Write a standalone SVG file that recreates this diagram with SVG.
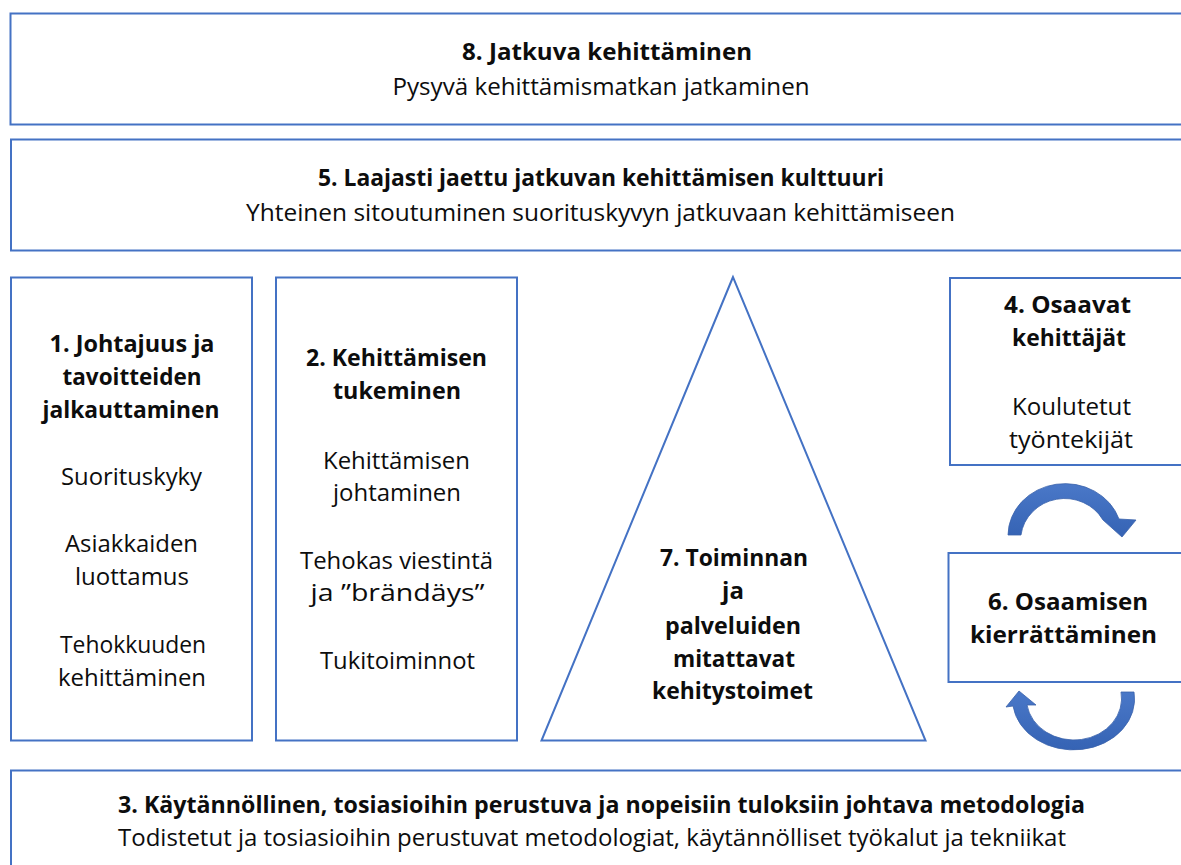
<svg xmlns="http://www.w3.org/2000/svg" width="1181" height="865" viewBox="0 0 1181 865">
  <style>
    .box { fill: #ffffff; stroke: #4472C4; stroke-width: 2; }
    .t { font-family: "Open Sans", "Noto Sans", "Liberation Sans", sans-serif; font-size: 24px; fill: #0d0d0d; text-anchor: middle; }
    .b { font-weight: bold; }
    .arrow { fill: url(#arrowFill); stroke: #3a62ab; stroke-width: 0.8; }
  </style>
  <defs>
    <linearGradient id="arrowFill" x1="0" y1="0" x2="0" y2="1">
      <stop offset="0" stop-color="#4a78c8"/>
      <stop offset="1" stop-color="#3563b4"/>
    </linearGradient>
  </defs>

  <rect width="1181" height="865" fill="#ffffff"/>

  <g id="node-8">
    <rect class="box" x="10.5" y="13.5" width="1200" height="111"/>
    <text class="t b" x="607" y="60" textLength="290" lengthAdjust="spacingAndGlyphs">8. Jatkuva kehittäminen</text>
    <text class="t" x="601" y="95" textLength="417" lengthAdjust="spacingAndGlyphs">Pysyvä kehittämismatkan jatkaminen</text>
  </g>

  <g id="node-5">
    <rect class="box" x="11" y="139.5" width="1200" height="111"/>
    <text class="t b" x="601" y="186" textLength="566" lengthAdjust="spacingAndGlyphs">5. Laajasti jaettu jatkuvan kehittämisen kulttuuri</text>
    <text class="t" x="600.5" y="221" textLength="709" lengthAdjust="spacingAndGlyphs">Yhteinen sitoutuminen suorituskyvyn jatkuvaan kehittämiseen</text>
  </g>

  <g id="node-1">
    <rect class="box" x="11" y="277.5" width="241" height="463"/>
    <text class="t b" x="132" y="352" textLength="165" lengthAdjust="spacingAndGlyphs">1. Johtajuus ja</text>
    <text class="t b" x="132" y="385" textLength="139" lengthAdjust="spacingAndGlyphs">tavoitteiden</text>
    <text class="t b" x="131" y="418" textLength="177" lengthAdjust="spacingAndGlyphs">jalkauttaminen</text>
    <text class="t" x="131.5" y="485" textLength="141" lengthAdjust="spacingAndGlyphs">Suorituskyky</text>
    <text class="t" x="131.5" y="552" textLength="133" lengthAdjust="spacingAndGlyphs">Asiakkaiden</text>
    <text class="t" x="132" y="585" textLength="114" lengthAdjust="spacingAndGlyphs">luottamus</text>
    <text class="t" x="133" y="653" textLength="146" lengthAdjust="spacingAndGlyphs">Tehokkuuden</text>
    <text class="t" x="132" y="686" textLength="148" lengthAdjust="spacingAndGlyphs">kehittäminen</text>
  </g>

  <g id="node-2">
    <rect class="box" x="276" y="277.5" width="241" height="463"/>
    <text class="t b" x="396.5" y="366" textLength="181" lengthAdjust="spacingAndGlyphs">2. Kehittämisen</text>
    <text class="t b" x="397" y="399" textLength="128" lengthAdjust="spacingAndGlyphs">tukeminen</text>
    <text class="t" x="396.5" y="469" textLength="147" lengthAdjust="spacingAndGlyphs">Kehittämisen</text>
    <text class="t" x="397" y="501" textLength="128" lengthAdjust="spacingAndGlyphs">johtaminen</text>
    <text class="t" x="396.5" y="569" textLength="193" lengthAdjust="spacingAndGlyphs">Tehokas viestintä</text>
    <text class="t" x="397.5" y="601" textLength="174" lengthAdjust="spacingAndGlyphs">ja ”brändäys”</text>
    <text class="t" x="397.5" y="669" textLength="155" lengthAdjust="spacingAndGlyphs">Tukitoiminnot</text>
  </g>

  <g id="node-7">
    <polygon class="box" points="733,277 541.5,740.5 925.5,740.5"/>
    <text class="t b" x="734" y="566" textLength="148" lengthAdjust="spacingAndGlyphs">7. Toiminnan</text>
    <text class="t b" x="733" y="599">ja</text>
    <text class="t b" x="733" y="634" textLength="136" lengthAdjust="spacingAndGlyphs">palveluiden</text>
    <text class="t b" x="734" y="667" textLength="122" lengthAdjust="spacingAndGlyphs">mitattavat</text>
    <text class="t b" x="732.5" y="699" textLength="161" lengthAdjust="spacingAndGlyphs">kehitystoimet</text>
  </g>

  <g id="node-4">
    <rect class="box" x="950" y="278" width="260" height="187"/>
    <text class="t b" x="1067.5" y="313" textLength="127" lengthAdjust="spacingAndGlyphs">4. Osaavat</text>
    <text class="t b" x="1069" y="346" textLength="114" lengthAdjust="spacingAndGlyphs">kehittäjät</text>
    <text class="t" x="1071.5" y="415" textLength="119" lengthAdjust="spacingAndGlyphs">Koulutetut</text>
    <text class="t" x="1071" y="448" textLength="124" lengthAdjust="spacingAndGlyphs">työntekijät</text>
  </g>

  <g id="node-6">
    <rect class="box" x="948.5" y="553" width="260" height="129"/>
    <text class="t b" x="1068" y="610" textLength="160" lengthAdjust="spacingAndGlyphs">6. Osaamisen</text>
    <text class="t b" x="1063.5" y="643" textLength="187" lengthAdjust="spacingAndGlyphs">kierrättäminen</text>
  </g>

  <g id="node-3">
    <rect class="box" x="11" y="770.5" width="1200" height="120"/>
    <text class="t b" x="601.5" y="813" textLength="967" lengthAdjust="spacingAndGlyphs">3. Käytännöllinen, tosiasioihin perustuva ja nopeisiin tuloksiin johtava metodologia</text>
    <text class="t" x="592" y="846" textLength="948" lengthAdjust="spacingAndGlyphs">Todistetut ja tosiasioihin perustuvat metodologiat, käytännölliset työkalut ja tekniikat</text>
  </g>

  <g id="connectors">
    <!-- curved arrow from 4 down to 6 -->
    <path class="arrow" d="M1008,535 A57,52 0 0 1 1119,519 L1136,520 L1122,537 L1103,520 A44,42 0 0 0 1021,535 Z"/>
    <!-- curved arrow from 6 back up to 4 -->
    <path class="arrow" d="M1134,692 A60,50 0 0 1 1013,706 L1006,707 L1019,691 L1036,705 L1027,705 A47,41 0 0 0 1121,692 Z"/>
  </g>
</svg>
